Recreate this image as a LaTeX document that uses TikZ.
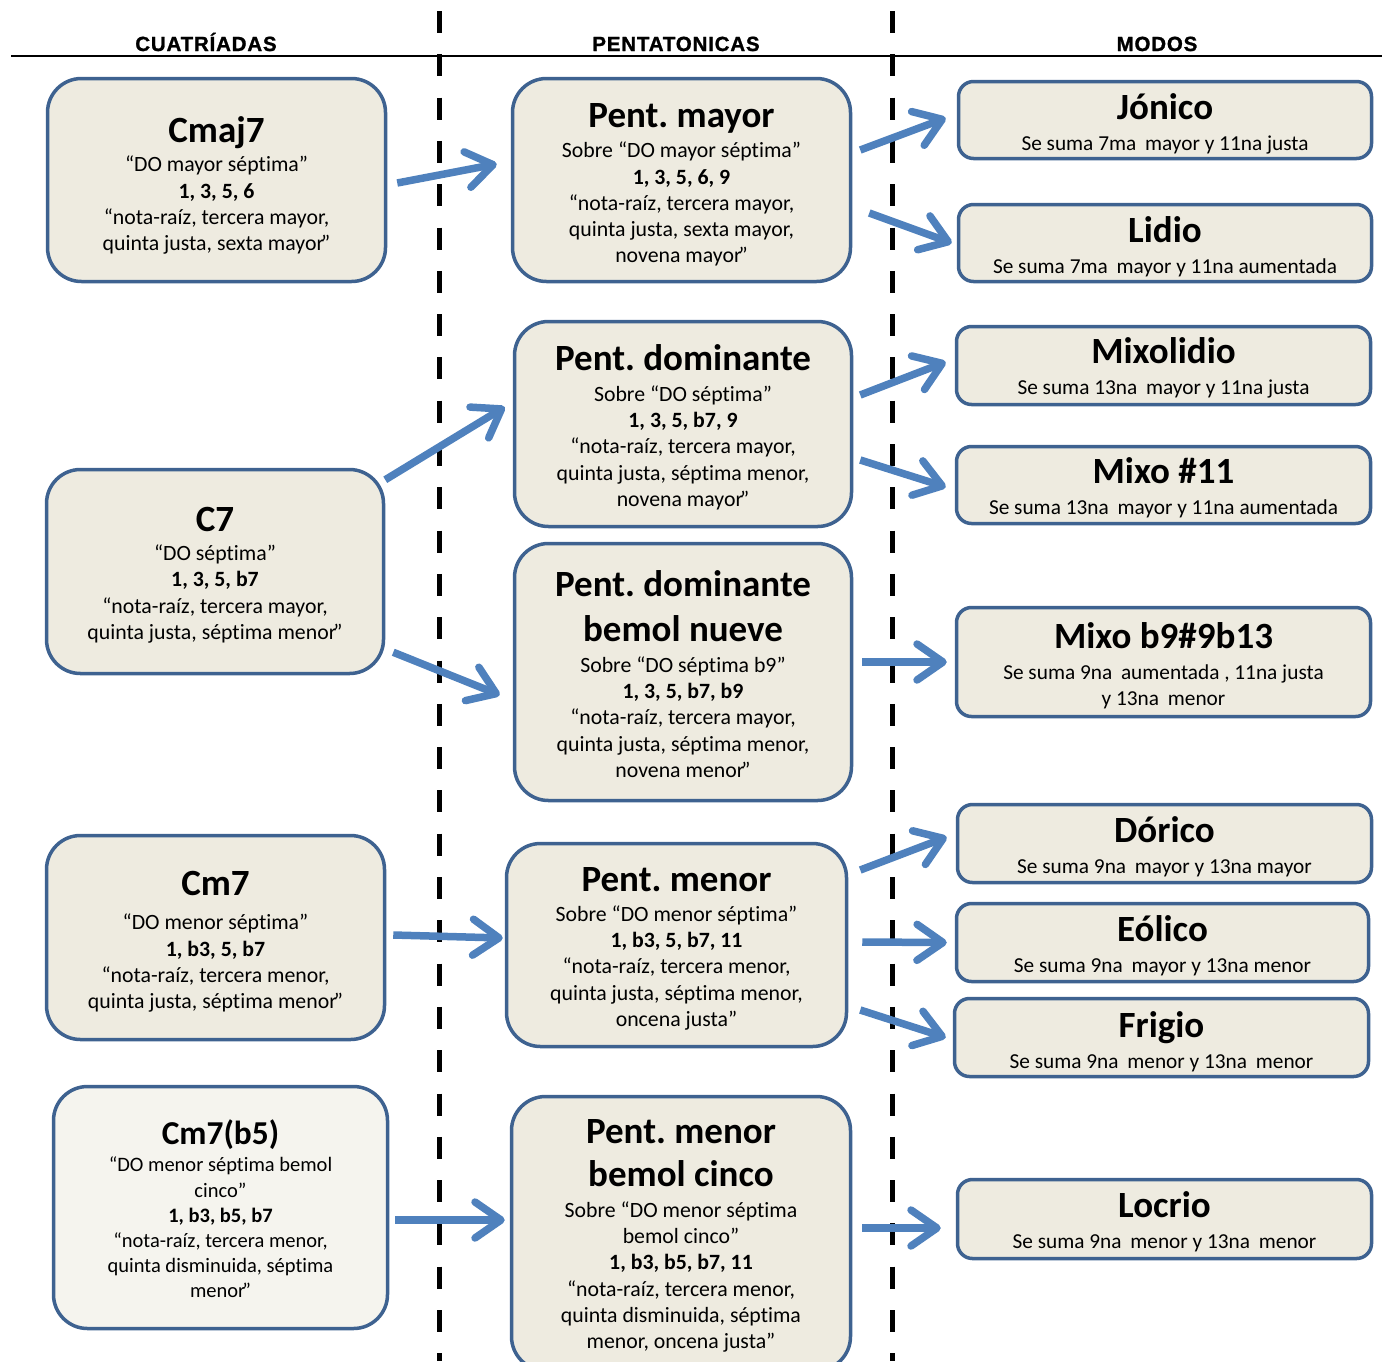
\documentclass[tikz,border=0pt]{standalone}
\usepackage{fontspec}
\setmainfont{Carlito}[Ligatures=NoCommon]
\newfontfamily\hdrfont{Liberation Sans}[LetterSpace=4,FakeBold=1.2]
\usetikzlibrary{arrows.meta,calc}
\frenchspacing
\definecolor{boxc}{HTML}{EEEBE0}
\definecolor{boxlight}{HTML}{F5F4EE}
\definecolor{bordc}{HTML}{3E6290}
\definecolor{arrc}{HTML}{4F81BD}
\newcommand\ttlf{\fontsize{37}{45}\selectfont\bfseries}
\newcommand\ttls{\fontsize{33.4}{40}\selectfont\bfseries}
\newcommand\bodyf{\fontsize{21.8}{26.3}\selectfont}
\newcommand\bodys{\fontsize{20.5}{25.2}\selectfont}
\newcommand\subf{\fontsize{21.3}{26}\selectfont}
\newcommand\rqr{\kern-3pt”}
\tikzset{
  bigbox/.style={draw=bordc, fill=boxc, line width=3.5pt, rounded corners=34pt, inner sep=0pt},
  modebox/.style={draw=bordc, fill=boxc, line width=3.5pt, rounded corners=15pt, inner sep=0pt},
  btxt/.style={inner sep=0pt, align=center, font=\bodyf},
  mtxt/.style={inner sep=0pt, align=center, font=\subf},
  hdr/.style={font=\hdrfont\bfseries\fontsize{20.5}{24}\selectfont, inner sep=0pt, anchor=base},
  arr/.style={draw=arrc, line width=7.5pt, -{Straight Barb[length=26pt,width=36pt,round]}},
  divider/.style={line width=5pt, dash pattern=on 22pt off 21.3pt},
}
\begin{document}
\begin{tikzpicture}[x=1pt,y=-1pt]
\useasboundingbox (0,0) rectangle (1382,1361);
\clip (0,0) rectangle (1382,1361);

% headers and rules
\node[hdr] (h1) at (206,51) {CUATRÍADAS};
\node[hdr] (h2) at (676,51) {PENTATONICAS};
\node[hdr] (h3) at (1157,51) {MODOS};
\draw[line width=2pt] (11,56) -- (1382,56);
\draw[divider] (439,11) -- (439,1361);
\draw[divider] (892,11) -- (892,1361);

% left column
\node[bigbox, minimum width=338pt, minimum height=203pt] (cmaj) at (216.5,180) {};
\node[btxt] (cmajT) at ($(cmaj.center)+(0,5.5)$)
 {{\ttlf Cmaj7}\\[3pt]“DO mayor séptima”\\{\bfseries 1, 3, 5, 6}\\“nota-raíz, tercera mayor,\\quinta justa, sexta mayor\rqr};
\node[bigbox, minimum width=337pt, minimum height=204pt] (csev) at (215,571.5) {};
\node[btxt] (csevT) at ($(csev.center)+(0,3.7)$)
 {{\ttlf C7}\\[3pt]“DO séptima”\\{\bfseries 1, 3, 5, b7}\\“nota-raíz, tercera mayor,\\quinta justa, séptima menor\rqr};
\node[bigbox, minimum width=338pt, minimum height=204pt] (cmin) at (215.5,937.5) {};
\node[btxt] (cminT) at ($(cmin.center)+(0,4.5)$)
 {{\ttlf Cm7}\\[8pt]“DO menor séptima”\\{\bfseries 1, b3, 5, b7}\\“nota-raíz, tercera menor,\\quinta justa, séptima menor\rqr};
\node[bigbox, fill=boxlight, minimum width=334pt, minimum height=242pt] (cmb5) at (220.5,1207.5) {};
\node[btxt, font=\bodys] (cmb5T) at ($(cmb5.center)+(0,1.5)$)
 {{\ttls Cm7(b5)}\\[2pt]“DO menor séptima bemol\\cinco”\\{\bfseries 1, b3, b5, b7}\\“nota-raíz, tercera menor,\\quinta disminuida, séptima\\menor\rqr};

% middle column
\node[bigbox, minimum width=338pt, minimum height=203pt] (pmay) at (681.5,180) {};
\node[btxt] (pmayT) at ($(pmay.center)+(0,5)$)
 {{\ttlf Pent. mayor}\\[4pt]Sobre “DO mayor séptima”\\{\bfseries 1, 3, 5, 6, 9}\\“nota-raíz, tercera mayor,\\quinta justa, sexta mayor,\\novena mayor\rqr};
\node[bigbox, minimum width=337pt, minimum height=205pt] (pdom) at (683,424) {};
\node[btxt] (pdomT) at ($(pdom.center)+(0,3.5)$)
 {{\ttlf Pent. dominante}\\[4pt]Sobre “DO séptima”\\{\bfseries 1, 3, 5, b7, 9}\\“nota-raíz, tercera mayor,\\quinta justa, séptima menor,\\novena mayor\rqr};
\node[bigbox, minimum width=337pt, minimum height=257pt] (pdb9) at (683,672) {};
\node[btxt] (pdb9T) at ($(pdb9.center)+(0,2)$)
 {{\ttlf Pent. dominante}\\[19pt]{\ttlf bemol nueve}\\[4pt]Sobre “DO séptima b9”\\{\bfseries 1, 3, 5, b7, b9}\\“nota-raíz, tercera mayor,\\quinta justa, séptima menor,\\novena menor\rqr};
\node[bigbox, minimum width=340pt, minimum height=203pt] (pmin) at (676.5,945) {};
\node[btxt] (pminT) at ($(pmin.center)+(0,3.7)$)
 {{\ttlf Pent. menor}\\[4pt]Sobre “DO menor séptima”\\{\bfseries 1, b3, 5, b7, 11}\\“nota-raíz, tercera menor,\\quinta justa, séptima menor,\\oncena justa”};
\node[bigbox, minimum width=339pt, minimum height=274pt] (pmb5) at (681,1233.5) {};
\node[btxt] (pmb5T) at ($(pmb5.center)+(0,2.5)$)
 {{\ttlf Pent. menor}\\[17pt]{\ttlf bemol cinco}\\[4pt]Sobre “DO menor séptima\\bemol cinco”\\{\bfseries 1, b3, b5, b7, 11}\\“nota-raíz, tercera menor,\\quinta disminuida, séptima\\menor, oncena justa”};

% right column
\node[modebox, minimum width=413pt, minimum height=77pt] (jon) at (1165,120) {};
\node[mtxt] (jonT) at ($(jon.center)+(0,3.5)$)
 {{\ttlf Jónico}\\[5pt]Se suma 7ma\hspace{4pt} mayor y 11na justa};
\node[modebox, minimum width=413pt, minimum height=77pt] (lid) at (1165,243) {};
\node[mtxt] (lidT) at ($(lid.center)+(0,3.5)$)
 {{\ttlf Lidio}\\[5pt]Se suma 7ma\hspace{4pt} mayor y 11na aumentada};
\node[modebox, minimum width=414pt, minimum height=78pt] (mixo) at (1163.5,365.5) {};
\node[mtxt] (mixoT) at ($(mixo.center)+(0,2.5)$)
 {{\ttlf Mixolidio}\\[5pt]Se suma 13na\hspace{4pt} mayor y 11na justa};
\node[modebox, minimum width=414pt, minimum height=77pt] (mx11) at (1163.5,485) {};
\node[mtxt] (mx11T) at ($(mx11.center)+(0,3)$)
 {{\ttlf Mixo \#11}\\[5pt]Se suma 13na\hspace{4pt} mayor y 11na aumentada};
\node[modebox, minimum width=414pt, minimum height=109pt] (mxb9) at (1163.5,662) {};
\node[mtxt] (mxb9T) at ($(mxb9.center)+(0,3.5)$)
 {{\ttlf Mixo b9\#9b13}\\[5pt]Se suma 9na\hspace{4pt} aumentada , 11na justa\\y 13na\hspace{4pt} menor};
\node[modebox, minimum width=414pt, minimum height=78pt] (dor) at (1164.5,843.5) {};
\node[mtxt] (dorT) at ($(dor.center)+(0,3.5)$)
 {{\ttlf Dórico}\\[5pt]Se suma 9na\hspace{4pt} mayor y 13na mayor};
\node[modebox, minimum width=412pt, minimum height=78pt] (eol) at (1162.5,942.5) {};
\node[mtxt] (eolT) at ($(eol.center)+(0,3)$)
 {{\ttlf Eólico}\\[5pt]Se suma 9na\hspace{4pt} mayor y 13na menor};
\node[modebox, minimum width=414pt, minimum height=78pt] (fri) at (1161.5,1037.5) {};
\node[mtxt] (friT) at ($(fri.center)+(0,4)$)
 {{\ttlf Frigio}\\[5pt]Se suma 9na\hspace{4pt} menor y 13na\hspace{4pt} menor};
\node[modebox, minimum width=414pt, minimum height=79pt] (loc) at (1164.5,1219) {};
\node[mtxt] (locT) at ($(loc.center)+(0,3)$)
 {{\ttlf Locrio}\\[5pt]Se suma 9na\hspace{4pt} menor y 13na\hspace{4pt} menor};

% arrows
\draw[arr] ($(cmaj.east)+(10,3)$) -- ($(pmay.west)+(-14,-16)$);
\draw[arr] ($(pmay.east)+(8,-30)$) -- ($(jon.west)+(-11,-2)$);
\draw[arr] ($(pmay.east)+(17,33)$) -- ($(lid.west)+(-5,0)$);
\draw[arr] ($(csev.north east)+(0,12)$) -- ($(pdom.west)+(-8,-17)$);
\draw[arr] ($(csev.south east)+(8,-23)$) -- ($(pdb9.west)+(-13,23)$);
\draw[arr] ($(pdom.east)+(7,-29)$) -- ($(mixo.west)+(-9,-3.5)$);
\draw[arr] ($(pdom.east)+(7,36)$) -- ($(mx11.west)+(-9,2)$);
\draw[arr] ($(pdb9.east)+(9,-10)$) -- ($(mxb9.west)+(-8,0)$);
\draw[arr] ($(cmin.east)+(7,-2.5)$) -- ($(pmin.west)+(-2,-7)$);
\draw[arr] ($(pmin.east)+(12,-75)$) -- ($(dor.west)+(-9,-6.5)$);
\draw[arr] ($(pmin.east)+(14,-3)$) -- ($(eol.west)+(-8,0)$);
\draw[arr] ($(pmin.east)+(12,65)$) -- ($(fri.west)+(-7,0)$);
\draw[arr] ($(cmb5.east)+(6,12.5)$) -- ($(pmb5.west)+(-5,-13.5)$);
\draw[arr] ($(pmb5.east)+(10,-5.5)$) -- ($(loc.west)+(-15,9)$);
\end{tikzpicture}
\end{document}
